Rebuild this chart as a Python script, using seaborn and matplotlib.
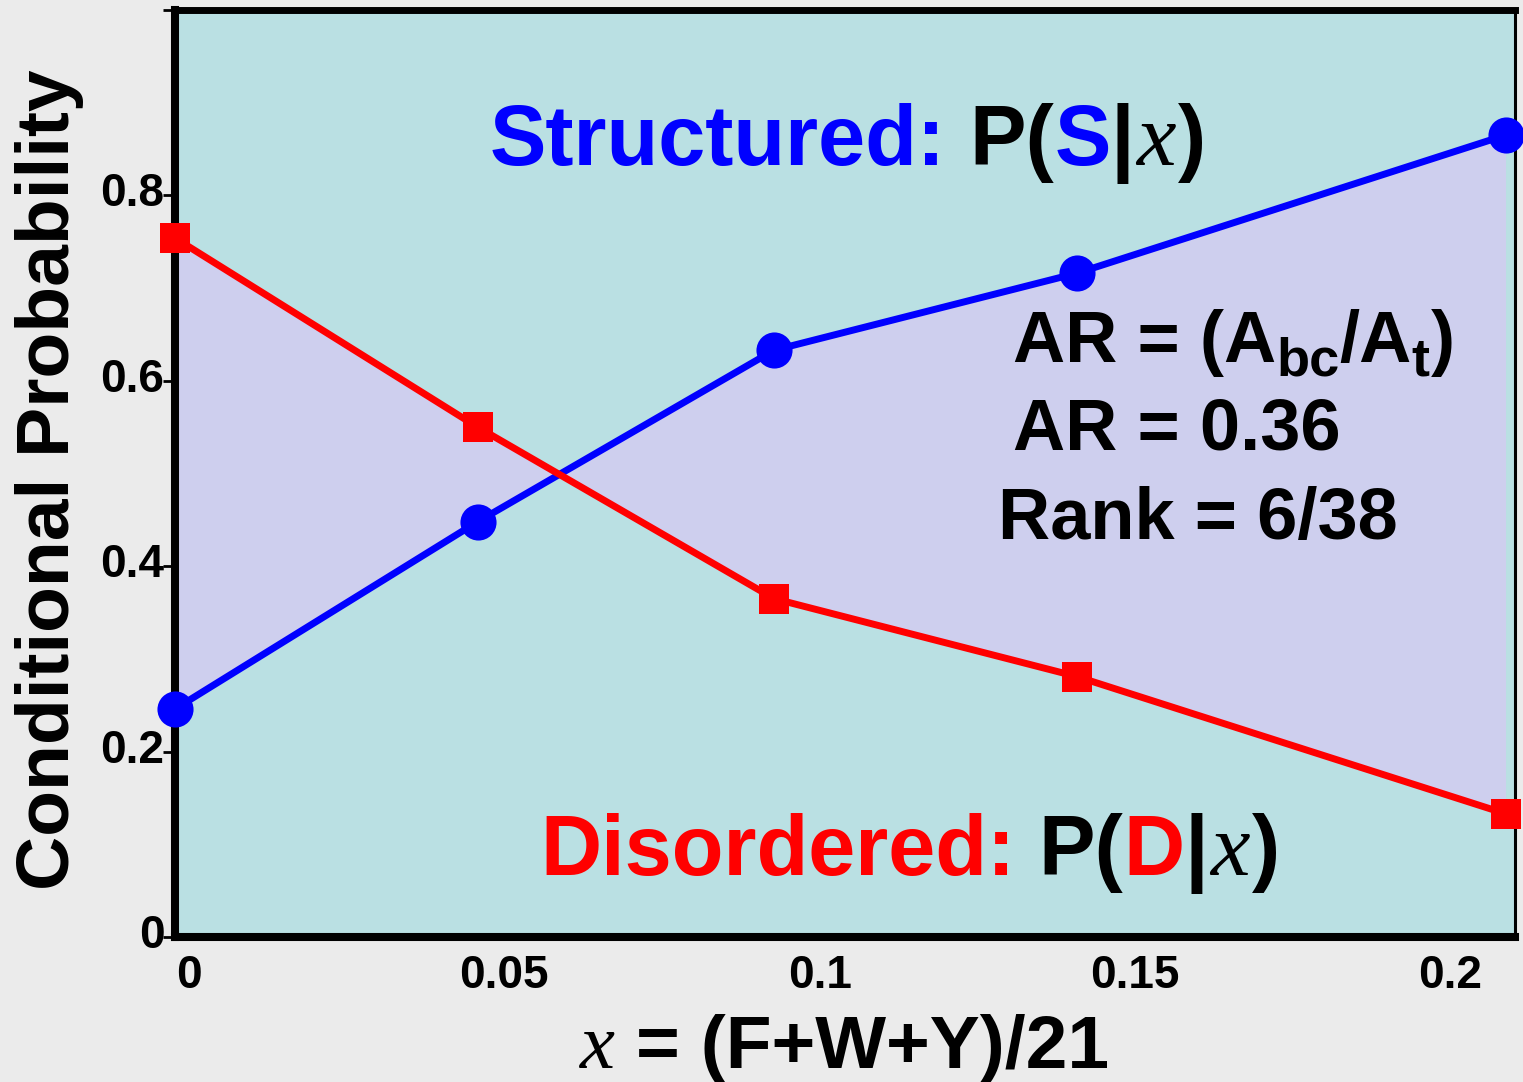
import matplotlib
matplotlib.use("Agg")
import matplotlib.pyplot as plt
import matplotlib.transforms as mtransforms
import seaborn as sns
import numpy as np

# ---------------- data ----------------
x_vals = [0.0, 0.048, 0.095, 0.143, 0.211]
p_structured = [0.246, 0.448, 0.633, 0.716, 0.865]
p_disordered = [0.754, 0.550, 0.365, 0.281, 0.133]
x_ticks = [0.0, 0.05, 0.1, 0.15, 0.2]
x_tick_labels = ["0", "0.05", "0.1", "0.15", "0.2"]
y_ticks = [0.0, 0.2, 0.4, 0.6, 0.8, 1.0]
y_tick_labels = ["0", "0.2", "0.4", "0.6", "0.8", ""]

W, H = 1523, 1082
DPI = 100

sns.set_theme(style="white")
plt.rcParams["font.family"] = ["Liberation Sans", "DejaVu Sans"]

BLUE = "#0000ff"
RED = "#ff0000"
FACE = "#bae0e3"
FILL = "#cecfee"
BG = "#ebebeb"

fig = plt.figure(figsize=(W / DPI, H / DPI), dpi=DPI, facecolor=BG)
L, R, T, B = 175, 1515, 10, 937
ax = fig.add_axes([L / W, 1 - B / H, (R - L) / W, (B - T) / H])
ax.set_facecolor(FACE)

ax.fill_between(x_vals, p_structured, p_disordered, color=FILL, lw=0, zorder=1)
sns.lineplot(x=x_vals, y=p_structured, ax=ax, color=BLUE, lw=5, marker="o",
             markersize=26, markeredgewidth=0, zorder=3, clip_on=False)
sns.lineplot(x=x_vals, y=p_disordered, ax=ax, color=RED, lw=5, marker="s",
             markersize=22, markeredgewidth=0, zorder=4, clip_on=False)

ax.set_xlim(0, 0.2125)
ax.set_ylim(0, 1.0)
ax.set_xlabel("")
ax.set_ylabel("")

ax.set_xticks(x_ticks)
ax.set_xticklabels(x_tick_labels, fontsize=33, fontweight="bold")
ax.set_yticks(y_ticks)
ax.set_yticklabels(y_tick_labels, fontsize=33, fontweight="bold")
ax.set_yticks(np.arange(0.1, 1.0, 0.2), minor=True)
ax.tick_params(axis="x", length=0, pad=12, colors="black")
ax.tick_params(axis="y", which="major", direction="out", length=9, width=2,
               pad=0, colors="black", left=True)
ax.tick_params(axis="y", which="minor", direction="out", length=3, width=2,
               left=True, colors="black")
offset = mtransforms.ScaledTranslation(14 / DPI, 0, fig.dpi_scale_trans)
for lbl in ax.get_xticklabels():
    lbl.set_transform(lbl.get_transform() + offset)
offy = mtransforms.ScaledTranslation(2 / DPI, 6 / DPI, fig.dpi_scale_trans)
for lbl in ax.get_yticklabels():
    lbl.set_transform(lbl.get_transform() + offy)

for side, lw in [("left", 5.8), ("bottom", 5.8), ("top", 5.0), ("right", 2.2)]:
    ax.spines[side].set_visible(True)
    ax.spines[side].set_color("black")
    ax.spines[side].set_linewidth(lw)

renderer = fig.canvas.get_renderer()

SANS = dict(family=["Liberation Sans", "DejaVu Sans"], fontweight="bold")
SERIF_IT = dict(family=["Liberation Serif", "DejaVu Serif"], style="italic")


def rich(x0, y0, pieces, size, center=False):
    """pieces: (text, color, fontdict, gap_before_em, size_scale, dy_px)"""
    texts = []
    cur = 0.0
    for s, color, fd, gap, scale, dy in pieces:
        cur += gap * size * DPI / 72
        t = fig.text(0, 0, s, color=color, fontsize=size * scale,
                     ha="left", va="baseline", **fd)
        w = t.get_window_extent(renderer).width
        texts.append((t, cur, dy))
        cur += w
    start = x0 - cur / 2 if center else x0
    for t, off, dy in texts:
        t.set_position(((start + off) / W, 1 - (y0 + dy) / H))


TS = 61
rich(490, 165, [("Structured:", BLUE, SANS, 0, 1, 0),
                ("P(", "black", SANS, 0.28, 1, 0),
                ("S", BLUE, SANS, 0, 1, 0),
                ("|", "black", SANS, 0, 1, 0),
                ("x", "black", SERIF_IT, 0.02, 1.05, 0),
                (")", "black", SANS, 0.03, 1, 0)], TS)
rich(540, 875, [("Disordered:", RED, SANS, 0, 1, 0),
                ("P(", "black", SANS, 0.28, 1, 0),
                ("D", RED, SANS, 0, 1, 0),
                ("|", "black", SANS, 0, 1, 0),
                ("x", "black", SERIF_IT, 0.02, 1.05, 0),
                (")", "black", SANS, 0.03, 1, 0)], TS)

AS = 52
rich(1013, 362, [("AR = (A", "black", SANS, 0, 1, 0),
                 ("bc", "black", SANS, 0, 0.75, 14),
                 ("/A", "black", SANS, 0, 1, 0),
                 ("t", "black", SANS, 0, 0.75, 14),
                 (")", "black", SANS, 0.02, 1, 0)], AS)
rich(1013, 450, [("AR = 0.36", "black", SANS, 0, 1, 0)], AS)
rich(998, 539, [("Rank = 6/38", "black", SANS, 0, 1, 0)], AS)

# axis labels
fig.text(50 / W, 1 - 480 / H, "Conditional Probability", rotation=90,
         ha="center", va="center", fontsize=54, color="black", **SANS)
rich(845, 1068, [("x", "black", SERIF_IT, 0, 1.05, 0),
                 ("= (F+W+Y)/21", "black", SANS, 0.28, 1, 0)], 54, center=True)

fig.savefig("out.png", dpi=DPI, facecolor=BG)
